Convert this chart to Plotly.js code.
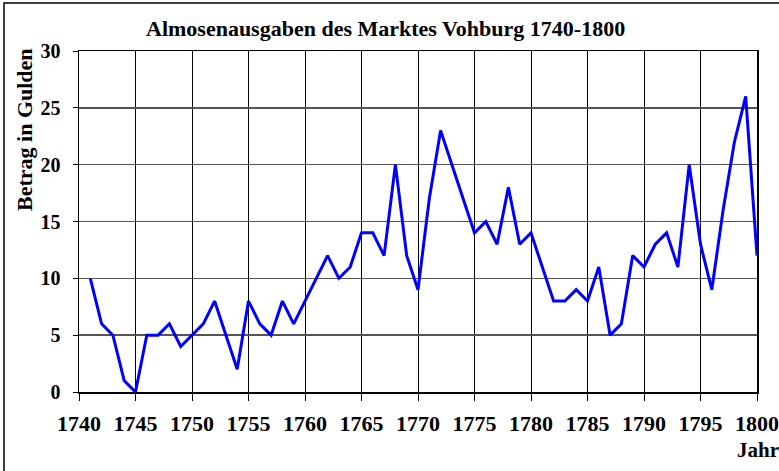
<!DOCTYPE html>
<html>
<head>
<meta charset="utf-8">
<script src="https://cdn.plot.ly/plotly-3.0.1.min.js"></script>
<style>
html,body{margin:0;padding:0;background:#fff;}
#chart{width:779px;height:471px;}
</style>
</head>
<body>
<div id="chart"></div>
<script>
const years = [1741,1742,1743,1744,1745,1746,1747,1748,1749,1750,
  1751,1752,1753,1754,1755,1756,1757,1758,1759,1760,
  1761,1762,1763,1764,1765,1766,1767,1768,1769,1770,
  1771,1772,1773,1774,1775,1776,1777,1778,1779,1780,
  1781,1782,1783,1784,1785,1786,1787,1788,1789,1790,
  1791,1792,1793,1794,1795,1796,1797,1798,1799,1800];
const amounts = [10,6,5,1,0,5,5,6,4,5,
  6,8,5,2,8,6,5,8,6,8,
  10,12,10,11,14,14,12,20,12,9,
  17,23,20,17,14,15,13,18,13,14,
  11,8,8,9,8,11,5,6,12,11,
  13,14,11,20,13,9,16,22,26,12];
const xTicks = [1740,1745,1750,1755,1760,1765,1770,1775,1780,1785,1790,1795,1800];
const yTicks = [0,5,10,15,20,25,30];

const serif = "Liberation Serif, Times New Roman, serif";

const trace = {
  x: years, y: amounts, type: 'scatter', mode: 'lines',
  line: {color: '#0000ff', width: 3},
  hoverinfo: 'x+y'
};

const L = 79, T = 51, W = 678, H = 341;
const px = v => (v - L) / W;
const py = v => (T + H - v) / H;

const layout = {
  width: 779, height: 471,
  margin: {l: 79, r: 22, t: 51, b: 79},
  paper_bgcolor: '#fff', plot_bgcolor: '#fff',
  showlegend: false,
  xaxis: {
    range: [1740, 1800], tickvals: xTicks, ticktext: xTicks.map(String),
    showgrid: true, gridcolor: '#000', gridwidth: 1,
    zeroline: false, showline: true, linecolor: '#000', linewidth: 1.5,
    mirror: true, ticks: 'outside', ticklen: 7, tickcolor: '#000',
    ticklabelstandoff: 4,
    tickfont: {family: serif, size: 22, color: '#000', weight: 'bold'},
    fixedrange: true
  },
  yaxis: {
    range: [0, 30], tickvals: yTicks, ticktext: yTicks.map(String),
    showgrid: true, gridcolor: '#555', gridwidth: 1.5,
    zeroline: false, showline: true, linecolor: '#000', linewidth: 1.5,
    mirror: true, ticks: 'outside', ticklen: 5, tickcolor: '#000',
    ticklabelstandoff: 8,
    tickfont: {family: serif, size: 20, color: '#000', weight: 'bold'},
    fixedrange: true
  },
  annotations: [
    {
      text: '<b>Almosenausgaben des Marktes Vohburg 1740-1800</b>',
      xref: 'paper', yref: 'paper', x: px(385), y: py(28),
      xanchor: 'center', yanchor: 'middle', showarrow: false,
      font: {family: serif, size: 22, color: '#000'}
    },
    {
      text: '<b>Betrag in Gulden</b>', textangle: -90,
      xref: 'paper', yref: 'paper', x: px(24), y: py(129),
      xanchor: 'center', yanchor: 'middle', showarrow: false,
      font: {family: serif, size: 22, color: '#000'}
    },
    {
      text: '<b>Jahr</b>',
      xref: 'paper', yref: 'paper', x: px(781), y: py(450),
      xanchor: 'right', yanchor: 'middle', showarrow: false,
      font: {family: serif, size: 21, color: '#000'}
    }
  ],
  shapes: [
    {
      type: 'rect', xref: 'paper', yref: 'paper',
      x0: px(4), x1: px(800), y0: py(500), y1: py(3),
      line: {color: '#000', width: 1.5}, fillcolor: 'rgba(0,0,0,0)', layer: 'below'
    }
  ]
};

Plotly.newPlot('chart', [trace], layout, {displayModeBar: false, staticPlot: true});
</script>
</body>
</html>
